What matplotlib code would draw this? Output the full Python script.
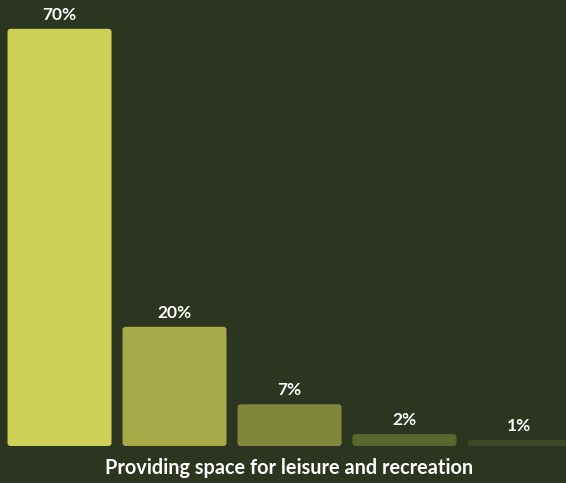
import matplotlib.pyplot as plt
from matplotlib.patches import FancyBboxPatch

BG = '#2b3520'
categories = ['A', 'B', 'C', 'D', 'E']
values = [70, 20, 7, 2, 1]
labels = ['70%', '20%', '7%', '2%', '1%']
colors = ['#cdd257', '#a6aa49', '#80873c', '#5b6530', '#3c4827']
title = 'Providing space for leisure and recreation'

W, H = 566, 483
fig = plt.figure(figsize=(W / 100, H / 100), dpi=100, facecolor=BG)
ax = fig.add_axes([0, 0, 1, 1])
ax.set_facecolor(BG)

step = 115.0      # px between bar centres
x0 = 59.5         # px of first bar centre
base = 446.0      # px of baseline from top
ppu = 5.96        # px per percent
ax.set_xlim(-x0 / step, (W - x0) / step)
ax.set_ylim(-(H - base) / ppu, base / ppu)
ax.axis('off')

width = 104 / step
rad = 3 / step
aspect = step / ppu
for i, (v, lab, c) in enumerate(zip(values, labels, colors)):
    p = FancyBboxPatch((i - width / 2, 0), width, v,
                       boxstyle='round,pad=0,rounding_size=%f' % rad,
                       mutation_aspect=aspect, fc=c, ec='none')
    ax.add_patch(p)
    ax.annotate(lab, (i, v), xytext=(0, 4.5), textcoords='offset points',
                ha='center', va='bottom', color='white', fontsize=12.5,
                fontweight='bold', family='Lato')

fig.text(289.5 / W, 1 - 468 / H, title, ha='center', va='center',
         color='white', fontsize=14.3, fontweight='bold', family='Lato')

fig.savefig('out.png', dpi=100, facecolor=BG)
